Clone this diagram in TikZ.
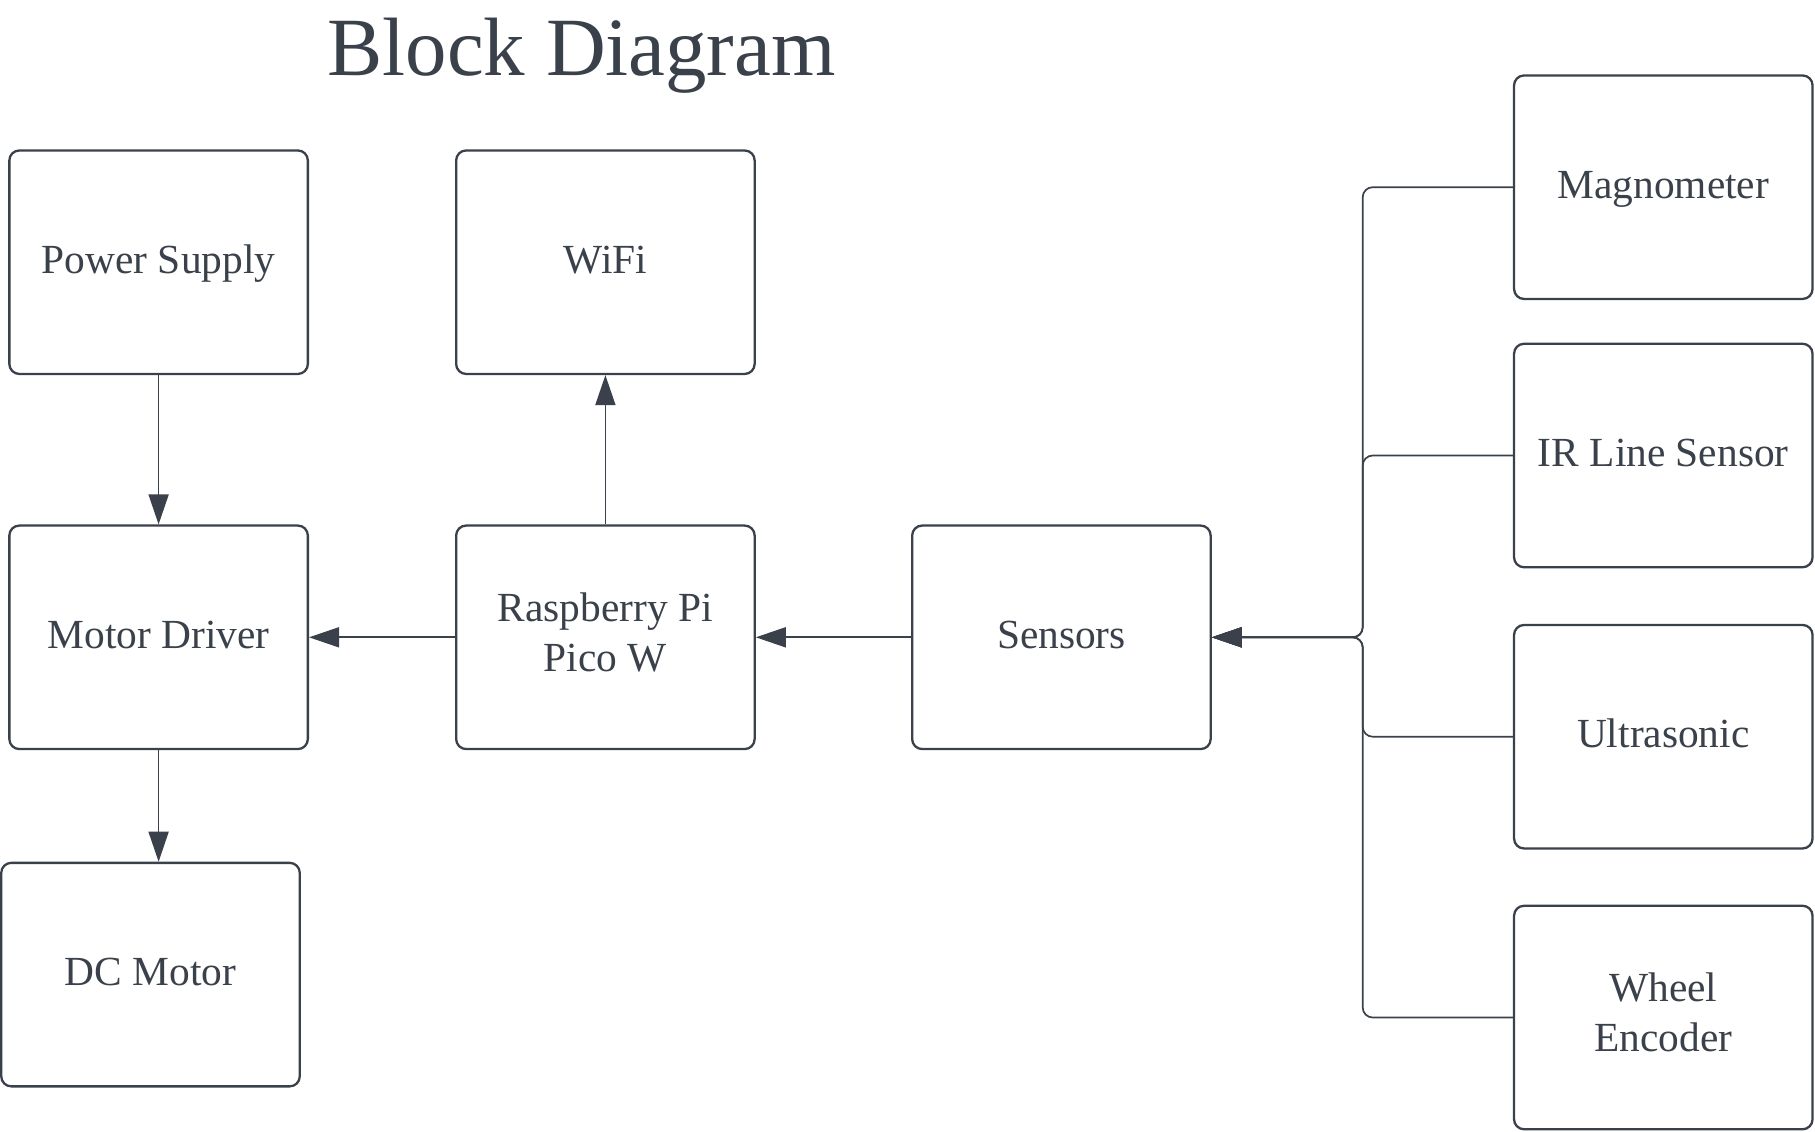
\documentclass[tikz,border=0pt]{standalone}
\usepackage{fontspec}
\setmainfont{Liberation Serif}
\usetikzlibrary{arrows.meta}
\definecolor{ink}{HTML}{3A414A}
\newcommand\twolines[2]{\raisebox{0pt}[\height][\dimexpr\depth+1.1pt\relax]{\begin{tabular}{@{}c@{}}#1\\#2\end{tabular}}}
\begin{document}
\begin{tikzpicture}[x=0.5pt,y=-0.5pt,
  blk/.style={draw=ink,line width=1.15pt,rounded corners=5pt,minimum width=149.25pt,minimum height=111.75pt,inner sep=0pt,text=ink,font=\fontsize{20.7}{25}\selectfont},
  onel/.style={blk,text height=14.3pt,text depth=3.1pt},
  conn/.style={draw=ink,line width=0.85pt,-{Triangle[length=15pt,width=10pt]}},
  bus/.style={conn,rounded corners=5pt}]
\useasboundingbox (0,0) rectangle (1815,1131);
\node[anchor=base,text=ink,font=\fontsize{41.4}{48}\selectfont] (title) at (581.6,75) {Block Diagram};
\node[onel] (ps) at (158.6,262.2) {Power Supply};
\node[onel] (wifi) at (605.4,262.2) {WiFi};
\node[onel] (md) at (158.6,637.3) {Motor Driver};
\node[blk] (rpi) at (605.4,637.3) {\twolines{Raspberry Pi}{Pico W}};
\node[onel] (sens) at (1061.4,637.3) {Sensors};
\node[onel] (dc) at (150.5,974.6) {DC Motor};
\node[onel] (mag) at (1663.3,187.2) {Magnometer};
\node[onel] (ir) at (1663.3,455.5) {IR Line Sensor};
\node[onel] (us) at (1663.3,736.7) {Ultrasonic};
\node[blk] (we) at (1663.3,1017.5) {\twolines{Wheel}{Encoder}};
\coordinate (busc) at (1362.7,637.3);
\draw[conn] (ps.south) -- (md.north);
\draw[conn] (md.south) -- (md.south |- dc.north);
\draw[conn] (rpi.north) -- (wifi.south);
\draw[conn] (rpi.west) -- (md.east);
\draw[conn] (sens.west) -- (rpi.east);
\draw[bus] (mag.west) -| (busc) -- (sens.east);
\draw[bus] (ir.west) -| (busc) -- (sens.east);
\draw[bus] (us.west) -| (busc) -- (sens.east);
\draw[bus] (we.west) -| (busc) -- (sens.east);
\end{tikzpicture}
\end{document}
